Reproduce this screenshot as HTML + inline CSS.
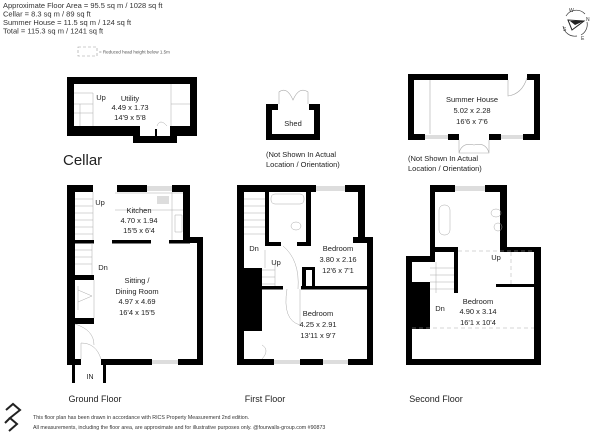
<!DOCTYPE html>
<html><head><meta charset="utf-8"><style>
html,body{margin:0;padding:0;background:#fff;}
svg{display:block;font-family:"Liberation Sans",Arial,sans-serif;}
</style></head><body>
<svg width="600" height="433" viewBox="0 0 600 433" xmlns="http://www.w3.org/2000/svg">
<g font-size="7.5" fill="#333">
<text x="3" y="8">Approximate Floor Area = 95.5 sq m / 1028 sq ft</text>
<text x="3" y="16.5">Cellar = 8.3 sq m / 89 sq ft</text>
<text x="3" y="25">Summer House = 11.5 sq m / 124 sq ft</text>
<text x="3" y="33.5">Total = 115.3 sq m / 1241 sq ft</text>
</g>
<rect x="78" y="47" width="19" height="9" fill="none" stroke="#999" stroke-width="0.6" stroke-dasharray="3,2"/>
<text x="99" y="53.5" font-size="4.5" fill="#555">= Reduced head height below 1.5m</text>

<!-- compass -->
<g stroke="#333" fill="none" stroke-width="0.7">
<path d="M566 16 A12 12 0 0 1 585 14"/><path d="M587 22 A12 12 0 0 1 581 35"/><path d="M577 36 A12 12 0 0 1 563 26"/>
</g>
<path d="M568 20 L584 21 L572 30 Z" fill="#fff" stroke="#222" stroke-width="1"/>
<path d="M570 21 L584 21 L575 25 Z" fill="#222"/>
<g font-size="5" fill="#333"><text x="569" y="12">W</text><text x="586" y="21">N</text><text x="563" y="31">S</text><text x="581" y="40">E</text></g>

<!-- Cellar -->
<path d="M67 77 H197 V136 H177 V143 H133 V136 H67 Z M74 84 V126 H140 V136 H170 V126 H190 V84 Z" fill="#000" fill-rule="evenodd"/>
<g stroke="#aaa" stroke-width="0.5" fill="none">
<path d="M74 93 H93 V126 M74 104 H93 M74 113 H93 M80 104 V126 M171 84 V126 M171 104 H190"/>
<path d="M157 126 Q160 118 167 126"/>
</g>
<rect x="155" y="129" width="2" height="7" fill="#000"/>
<g font-size="7.5" fill="#222" text-anchor="middle">
<text x="101" y="100">Up</text><text x="130" y="101">Utility</text><text x="130" y="110">4.49 x 1.73</text><text x="130" y="120">14'9 x 5'8</text>
</g>
<text x="63" y="165" font-size="15" fill="#222">Cellar</text>

<!-- Shed -->
<path d="M266 104 H278 V110 H272 V134 H314 V110 H309 V104 H320 V140 H266 Z" fill="#000"/>
<path d="M279 104 V92 Q287 86 293 100 Q299 86 308 92 V104" fill="none" stroke="#aaa" stroke-width="0.6"/>
<text x="293" y="126" font-size="7.5" text-anchor="middle" fill="#222">Shed</text>
<g font-size="7.5" fill="#222"><text x="266" y="157">(Not Shown In Actual</text><text x="266" y="167">Location / Orientation)</text></g>

<!-- Summer house -->
<path d="M408 74 H508 V80 H414 V134 H425 V140 H408 Z" fill="#000"/>
<path d="M527 74 H540 V140 H523 V134 H534 V80 H527 Z" fill="#000"/>
<rect x="448" y="134" width="11" height="6" fill="#000"/><rect x="489" y="134" width="12" height="6" fill="#000"/>
<rect x="425" y="135" width="23" height="4" fill="#ddd"/><rect x="501" y="135" width="22" height="4" fill="#ddd"/>
<path d="M459 140 V153 H489 V140 M459 153 Q462 142 474 145 Q486 142 489 153" fill="none" stroke="#aaa" stroke-width="0.6"/>
<path d="M508 80 V96 Q522 94 527 78 M430 80 V134" fill="none" stroke="#aaa" stroke-width="0.6"/>
<g font-size="7.5" fill="#222" text-anchor="middle"><text x="472" y="102">Summer House</text><text x="472" y="113">5.02 x 2.28</text><text x="472" y="124">16'6 x 7'6</text></g>
<g font-size="7.5" fill="#222"><text x="408" y="161">(Not Shown In Actual</text><text x="408" y="171">Location / Orientation)</text></g>

<!-- Ground floor -->
<g fill="#000">
<rect x="67" y="185" width="8" height="180"/>
<rect x="67" y="185" width="26" height="7"/>
<rect x="117" y="185" width="30" height="7"/>
<rect x="172" y="185" width="18" height="7"/>
<rect x="183" y="185" width="7" height="56"/>
<rect x="183" y="237" width="20" height="6"/>
<rect x="197" y="237" width="6" height="128"/>
<rect x="67" y="359" width="14" height="6"/>
<rect x="101" y="359" width="51" height="6"/>
<rect x="178" y="359" width="25" height="6"/>
<rect x="112" y="240" width="39" height="3.5"/>
<rect x="169" y="240" width="21" height="3.5"/>
<rect x="75" y="240" width="19" height="3.5"/>
<rect x="75" y="275" width="19" height="5"/>
<rect x="75" y="318" width="19" height="6"/>
<rect x="72" y="365" width="3" height="18"/><rect x="103" y="365" width="3" height="18"/>
</g>
<rect x="147" y="186" width="25" height="5" fill="#ddd"/><rect x="152" y="360" width="26" height="4" fill="#ddd"/>
<g stroke="#aaa" stroke-width="0.5" fill="none">
<path d="M75 199 H93 M75 206 H93 M75 213 H93 M75 220 H93 M75 227 H93 M75 234 H93 M93 192 V240"/>
<path d="M75 250 H92 M75 257 H92 M75 264 H92 M92 243 V275"/>
<path d="M115 193 H183 M115 210 H183 M172 192 V240 M175 215 H182 V232 H175 Z"/>
<path d="M78 290 L92 296 L78 302 M78 286 V310 M94 280 V318"/>
<path d="M81 359 V343 Q96 343 101 359 M75 324 Q94 330 94 345"/>
</g>
<rect x="157" y="196" width="12" height="8" fill="#ddd"/>
<g font-size="7.5" fill="#222" text-anchor="middle">
<text x="100" y="205">Up</text>
<text x="139" y="213">Kitchen</text><text x="139" y="223">4.70 x 1.94</text><text x="139" y="233">15'5 x 6'4</text>
<text x="103" y="270">Dn</text>
<text x="137" y="283">Sitting /</text><text x="137" y="294">Dining Room</text><text x="137" y="304">4.97 x 4.69</text><text x="137" y="315">16'4 x 15'5</text>
<text x="90" y="379" font-size="7">IN</text>
</g>
<text x="95" y="402" font-size="9" text-anchor="middle" fill="#222">Ground Floor</text>

<!-- First floor -->
<g fill="#000">
<rect x="237" y="185" width="7" height="180"/>
<rect x="237" y="185" width="79" height="7"/>
<rect x="345" y="185" width="20" height="7"/>
<rect x="358" y="185" width="7" height="55"/>
<rect x="353" y="237" width="20" height="6"/>
<rect x="367" y="237" width="6" height="128"/>
<rect x="237" y="359" width="37" height="6"/>
<rect x="300" y="359" width="23" height="6"/>
<rect x="348" y="359" width="25" height="6"/>
<rect x="244" y="268" width="18" height="63"/>
<rect x="265" y="192" width="4" height="53"/>
<rect x="265" y="242" width="16" height="4"/>
<rect x="306" y="192" width="5" height="53"/>
<rect x="297" y="242" width="14" height="4"/>
<rect x="262" y="286" width="21" height="3.5"/>
<rect x="301" y="286" width="72" height="3.5"/>
<rect x="302" y="267" width="4" height="22"/><rect x="312" y="267" width="3" height="22"/><rect x="302" y="267" width="13" height="3"/>
</g>
<rect x="316" y="186" width="29" height="5" fill="#ddd"/>
<rect x="274" y="360" width="26" height="4" fill="#ddd"/><rect x="323" y="360" width="25" height="4" fill="#ddd"/>
<g stroke="#aaa" stroke-width="0.5" fill="none">
<rect x="271" y="194" width="33" height="10" rx="4"/>
<ellipse cx="296" cy="226" rx="5" ry="4"/>
<path d="M244 199 H265 M244 206 H265 M244 213 H265 M244 220 H265 M244 227 H265 M244 234 H265 M265 250 V268"/>
<path d="M262 270 H275 M262 277 H275 M262 284 H275 M275 263 V286"/>
<path d="M283 246 Q300 260 298 289 M287 289 Q282 320 300 325 V289"/>
<path d="M262 345 Q270 350 262 359"/>
</g>
<g font-size="7.5" fill="#222" text-anchor="middle">
<text x="254" y="251">Dn</text><text x="276" y="265">Up</text>
<text x="338" y="251">Bedroom</text><text x="338" y="262">3.80 x 2.16</text><text x="338" y="273">12'6 x 7'1</text>
<text x="318" y="316">Bedroom</text><text x="318" y="327">4.25 x 2.91</text><text x="318" y="338">13'11 x 9'7</text>
</g>
<text x="265" y="402" font-size="9" text-anchor="middle" fill="#222">First Floor</text>

<!-- Second floor -->
<g fill="#000">
<rect x="406" y="256" width="6" height="109"/>
<rect x="406" y="256" width="29" height="6"/>
<rect x="430" y="185" width="5" height="77"/>
<rect x="430" y="185" width="25" height="7"/>
<rect x="485" y="185" width="22" height="7"/>
<rect x="500" y="185" width="7" height="67"/>
<rect x="500" y="247" width="41" height="5"/>
<rect x="534" y="247" width="7" height="118"/>
<rect x="406" y="359" width="135" height="6"/>
<rect x="430" y="247" width="28" height="5"/>
<rect x="454" y="247" width="4" height="46"/>
<rect x="496" y="284" width="38" height="3"/>
<rect x="412" y="282" width="18" height="47"/>
</g>
<rect x="455" y="186" width="30" height="5" fill="#ddd"/>
<g stroke="#aaa" stroke-width="0.5" fill="none">
<rect x="439" y="205" width="11" height="30" rx="5"/>
<ellipse cx="496" cy="213" rx="5" ry="4"/><circle cx="498" cy="227" r="4"/>
<path d="M430 268 H454 M430 275 H454 M430 282 H454 M430 289 H454 M436 262 V293"/>
<path d="M412 328 H534 M458 251 H534 M511 252 V285" stroke-dasharray="4,3"/>
</g>
<g font-size="7.5" fill="#222" text-anchor="middle">
<text x="496" y="260">Up</text><text x="440" y="311">Dn</text>
<text x="478" y="304">Bedroom</text><text x="478" y="314">4.90 x 3.14</text><text x="478" y="325">16'1 x 10'4</text>
</g>
<text x="436" y="402" font-size="9" text-anchor="middle" fill="#222">Second Floor</text>

<!-- footer -->
<g stroke="#222" stroke-width="2" fill="none">
<path d="M6 410 L13 404 L20 410 L10 418 L17 424 L9 431"/>
<path d="M10 418 L5 423"/>
</g>
<g font-size="5.3" fill="#333">
<text x="33" y="419">This floor plan has been drawn in accordance with RICS Property Measurement 2nd edition.</text>
<text x="33" y="429">All measurements, including the floor area, are approximate and for illustrative purposes only. @fourwalls-group.com #90873</text>
</g>
</svg>
</body></html>
